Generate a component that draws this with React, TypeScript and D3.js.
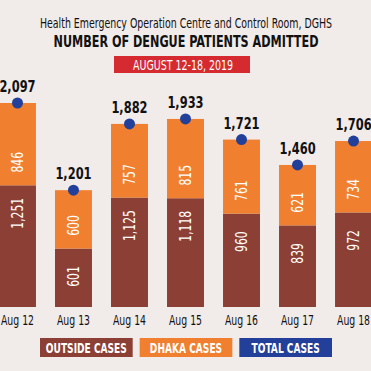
import React, { useEffect, useRef } from 'react';
import * as d3 from 'd3';

// chart data
const days = ['Aug 12', 'Aug 13', 'Aug 14', 'Aug 15', 'Aug 16', 'Aug 17', 'Aug 18'];
const outsideCases = [1251, 601, 1125, 1118, 960, 839, 972];
const dhakaCases = [846, 600, 757, 815, 761, 621, 734];
const totalCases = [2097, 1201, 1882, 1933, 1721, 1460, 1706];
const legendLabels = ['OUTSIDE CASES', 'DHAKA CASES', 'TOTAL CASES'];

const W = 371;
const H = 371;
const BG = '#f1ebe9';
const BROWN = '#8c3f35';
const ORANGE = '#f0802f';
const BLUE = '#22409a';
const RED = '#d42a30';
const FONT = '"DejaVu Sans Condensed", "Liberation Sans Narrow", sans-serif';

// squeeze texts horizontally, the original uses a condensed face
function squeeze(sel: any, k: number) {
  sel.each(function (this: SVGTextElement) {
    const len = this.getComputedTextLength();
    d3.select(this).attr('textLength', len * k).attr('lengthAdjust', 'spacingAndGlyphs');
  });
}

export default function App() {
  const node = useRef<SVGSVGElement>(null);

  useEffect(() => {
    const svg = d3.select(node.current);
    svg.selectAll('*').remove();

    svg.append('rect').attr('width', W).attr('height', H).attr('fill', BG);

    // titles
    svg.append('text')
      .attr('x', 186).attr('y', 28)
      .attr('text-anchor', 'middle')
      .style('font', `13.5px ${FONT}`)
      .attr('fill', '#111')
      .attr('textLength', 292)
      .attr('lengthAdjust', 'spacingAndGlyphs')
      .text('Health Emergency Operation Centre and Control Room, DGHS');

    svg.append('text')
      .attr('x', 186).attr('y', 47)
      .attr('text-anchor', 'middle')
      .style('font', `bold 16.5px ${FONT}`)
      .attr('fill', '#111')
      .attr('textLength', 265)
      .attr('lengthAdjust', 'spacingAndGlyphs')
      .text('NUMBER OF DENGUE PATIENTS ADMITTED');

    svg.append('rect')
      .attr('x', 114).attr('y', 56).attr('width', 136).attr('height', 17)
      .attr('fill', RED);
    svg.append('text')
      .attr('x', 183).attr('y', 70)
      .attr('text-anchor', 'middle')
      .style('font', `14.5px ${FONT}`)
      .attr('fill', '#fff')
      .attr('textLength', 100)
      .attr('lengthAdjust', 'spacingAndGlyphs')
      .text('AUGUST 12-18, 2019');

    // scales
    const x = d3.scaleBand<string>()
      .domain(days)
      .range([-1, 372])
      .paddingInner(0.34)
      .paddingOuter(0);

    const y = d3.scaleLinear()
      .domain([0, 2097])
      .range([307, 103]);

    const rows = days.map((d, i) => ({
      day: d, outside: outsideCases[i], dhaka: dhakaCases[i], total: totalCases[i]
    }));

    const g = svg.append('g');
    const bw = x.bandwidth();
    const fmt = d3.format(',');

    // outside segment
    g.selectAll('.outside').data(rows).enter().append('rect')
      .attr('class', 'outside')
      .attr('x', d => x(d.day)!)
      .attr('y', d => y(d.outside))
      .attr('width', bw)
      .attr('height', d => y(0) - y(d.outside))
      .attr('fill', BROWN);

    // dhaka segment
    g.selectAll('.dhaka').data(rows).enter().append('rect')
      .attr('class', 'dhaka')
      .attr('x', d => x(d.day)!)
      .attr('y', d => y(d.outside + d.dhaka))
      .attr('width', bw)
      .attr('height', d => y(d.outside) - y(d.outside + d.dhaka))
      .attr('fill', ORANGE);

    // rotated segment labels
    const lo = g.selectAll('.lbl-out').data(rows).enter().append('text')
      .attr('transform', d => `translate(${x(d.day)! + bw / 2},${y(d.outside) + 28}) rotate(-90)`)
      .attr('text-anchor', 'middle')
      .attr('dy', '0.36em')
      .style('font', `15px ${FONT}`)
      .attr('fill', '#fff')
      .text(d => fmt(d.outside));
    squeeze(lo, 0.8);

    const ld = g.selectAll('.lbl-dh').data(rows).enter().append('text')
      .attr('transform', d => `translate(${x(d.day)! + bw / 2},${y(d.outside) - 23}) rotate(-90)`)
      .attr('text-anchor', 'middle')
      .attr('dy', '0.36em')
      .style('font', `15px ${FONT}`)
      .attr('fill', '#fff')
      .text(d => fmt(d.dhaka));
    squeeze(ld, 0.8);

    // total dots and labels
    g.selectAll('.dot').data(rows).enter().append('circle')
      .attr('cx', d => x(d.day)! + bw / 2)
      .attr('cy', d => y(d.total))
      .attr('r', 5.5)
      .attr('fill', BLUE);

    const lt = g.selectAll('.lbl-tot').data(rows).enter().append('text')
      .attr('x', d => x(d.day)! + bw / 2)
      .attr('y', d => y(d.total) - 11)
      .attr('text-anchor', 'middle')
      .style('font', `bold 15.5px ${FONT}`)
      .attr('fill', '#111')
      .text(d => fmt(d.total));
    squeeze(lt, 0.82);

    // x axis labels
    const lx0 = g.selectAll('.lbl-day').data(rows).enter().append('text')
      .attr('x', d => x(d.day)! + bw / 2)
      .attr('y', 325)
      .attr('text-anchor', 'middle')
      .style('font', `14px ${FONT}`)
      .attr('fill', '#111')
      .text(d => d.day);
    squeeze(lx0, 0.74);

    // legend
    const legendColors = [BROWN, ORANGE, BLUE];
    const lx = d3.scaleBand<string>().domain(legendLabels).range([40, 332]).paddingInner(0.07);
    const legend = svg.selectAll('.legend').data(legendLabels).enter().append('g');
    legend.append('rect')
      .attr('x', d => lx(d)!)
      .attr('y', 338)
      .attr('width', lx.bandwidth())
      .attr('height', 19)
      .attr('fill', (d, i) => legendColors[i]);
    const lt2 = legend.append('text')
      .attr('x', d => lx(d)! + lx.bandwidth() / 2)
      .attr('y', 353)
      .attr('text-anchor', 'middle')
      .style('font', `bold 14px ${FONT}`)
      .attr('fill', '#fff')
      .text(d => d);
    squeeze(lt2, 0.72);
  }, []);

  return (
    <svg ref={node} width={W} height={H}
      style={{ position: 'absolute', left: 0, top: 0, display: 'block' }} />
  );
}
